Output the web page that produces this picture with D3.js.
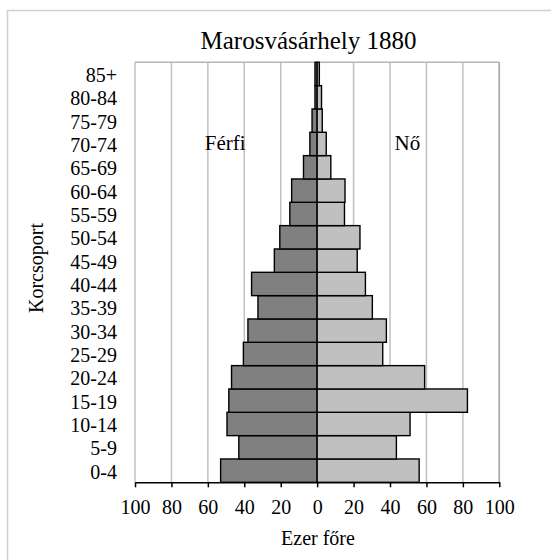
<!DOCTYPE html>
<html><head><meta charset="utf-8">
<script src="https://cdn.jsdelivr.net/npm/d3@7"></script>
<style>body{margin:0;background:#fff}svg{display:block}text{font-family:"Liberation Serif","Times New Roman",serif;fill:#000}</style>
</head><body>
<svg id="c" width="551" height="560"></svg>
<script>
const title = "Marosvásárhely 1880";
const categories = ["0-4","5-9","10-14","15-19","20-24","25-29","30-34","35-39","40-44","45-49","50-54","55-59","60-64","65-69","70-74","75-79","80-84","85+"];
const male   = [53, 43, 49.5, 48.5, 47, 40.5, 38, 32.5, 36, 23.5, 20.5, 15, 14, 7.5, 4, 2.8, 1.2, 1.2];
const female = [56, 43.5, 51, 82.5, 59, 36, 38, 30.3, 26.5, 22, 23.5, 15, 15.3, 7.5, 5, 2.8, 2.4, 1.2];
const xTicks = [-100,-80,-60,-40,-20,0,20,40,60,80,100];
const maleLabel = "Férfi", femaleLabel = "Nő";
const xTitle = "Ezer főre", yTitle = "Korcsoport";

const svg = d3.select("#c");
const L = 135, R = 499.3, T = 62.3, B = 482.3;
const x = d3.scaleLinear().domain([-100,100]).range([L,R]);
const y = d3.scaleBand().domain(categories.slice().reverse()).range([T,B]).padding(0);

// outer frame
svg.append("rect").attr("x",7.5).attr("y",10.5).attr("width",600).attr("height",600)
  .attr("fill","#fff").attr("stroke","#d0d0d0").attr("stroke-width",1.5);

// gridlines
svg.append("g").selectAll("line").data(xTicks).join("line")
  .attr("x1",d=>x(d)).attr("x2",d=>x(d)).attr("y1",T).attr("y2",B)
  .attr("stroke","#c0c0c0").attr("stroke-width",1.5);
svg.append("line").attr("x1",L).attr("x2",R).attr("y1",T).attr("y2",T)
  .attr("stroke","#b5b5b5").attr("stroke-width",1.5);
svg.append("line").attr("x1",R).attr("x2",R).attr("y1",T).attr("y2",B)
  .attr("stroke","#a8a8a8").attr("stroke-width",1.5);

// bars
const g = svg.append("g");
g.selectAll(".m").data(categories).join("rect").attr("class","m")
  .attr("x",(d,i)=>x(-male[i])).attr("width",(d,i)=>x(0)-x(-male[i]))
  .attr("y",d=>y(d)).attr("height",y.bandwidth())
  .attr("fill","#808080").attr("stroke","#000").attr("stroke-width",1.4);
g.selectAll(".f").data(categories).join("rect").attr("class","f")
  .attr("x",x(0)).attr("width",(d,i)=>x(female[i])-x(0))
  .attr("y",d=>y(d)).attr("height",y.bandwidth())
  .attr("fill","#c0c0c0").attr("stroke","#000").attr("stroke-width",1.4);

// x axis
const xa = svg.append("g").attr("transform",`translate(0,${B})`)
  .call(d3.axisBottom(x).tickValues(xTicks).tickFormat(d=>Math.abs(d)).tickSize(5).tickSizeOuter(0));
xa.select(".domain").attr("stroke","#000").attr("stroke-width",1.5);
xa.selectAll(".tick line").attr("stroke","#000").attr("stroke-width",1.5);
xa.selectAll(".tick text").attr("font-size","20px").attr("y",17.5).attr("dy","0.71em")
  .style("font-family",'"Liberation Serif",serif');

// y labels
svg.append("g").selectAll("text").data(categories).join("text")
  .attr("x",117).attr("y",d=>y(d)+y.bandwidth()/2+1).attr("dy","0.35em")
  .attr("text-anchor","end").attr("font-size","20px").text(d=>d);

// titles
svg.append("text").attr("x",308.5).attr("y",49).attr("text-anchor","middle").attr("font-size","25px").text(title);
svg.append("text").attr("x",318).attr("y",545).attr("text-anchor","middle").attr("font-size","20px").text(xTitle);
svg.append("text").attr("transform","translate(43,268) rotate(-90)").attr("text-anchor","middle").attr("font-size","20px").text(yTitle);
svg.append("text").attr("x",x(-50.5)).attr("y",150).attr("text-anchor","middle").attr("font-size","21px").text(maleLabel);
svg.append("text").attr("x",x(49.5)).attr("y",150).attr("text-anchor","middle").attr("font-size","21px").text(femaleLabel);
</script>
</body></html>
